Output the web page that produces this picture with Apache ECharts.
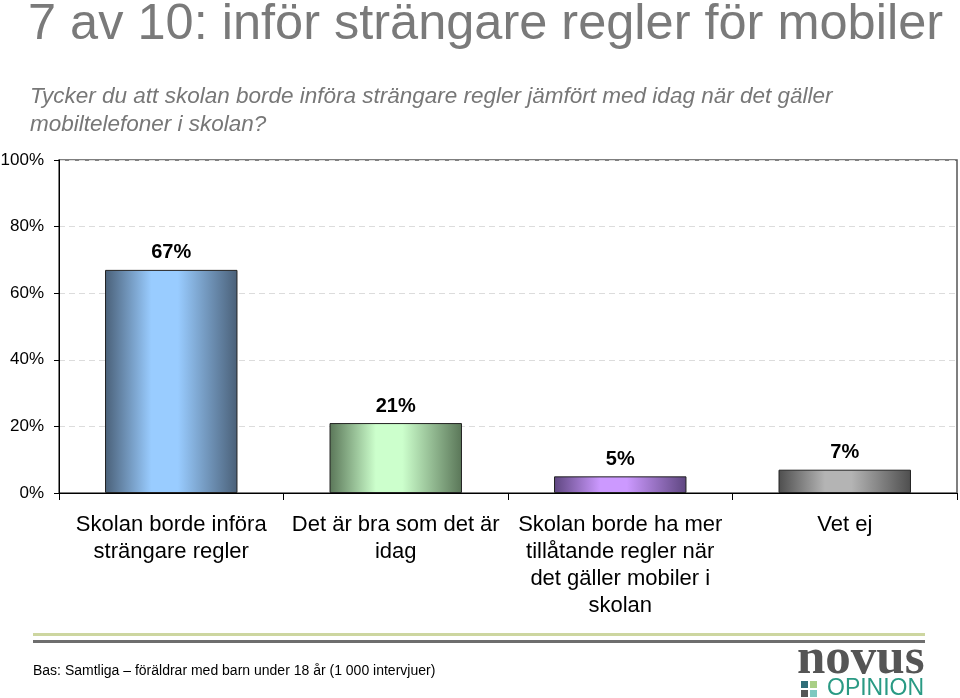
<!DOCTYPE html>
<html>
<head>
<meta charset="utf-8">
<script src="https://cdn.jsdelivr.net/npm/echarts@6/dist/echarts.min.js"></script>
<style>
html,body{margin:0;padding:0;background:#fff;}
#chart{width:960px;height:698px;}
</style>
</head>
<body>
<div id="chart"></div>
<script>
var categories = [
  "Skolan borde införa\nsträngare regler",
  "Det är bra som det är\nidag",
  "Skolan borde ha mer\ntillåtande regler när\ndet gäller mobiler i\nskolan",
  "Vet ej"
];
var values = [67, 21, 5, 7];
var yTicks = [0, 20, 40, 60, 80, 100];
var titleText = "7 av 10: inför strängare regler för mobiler";
var subtitleText = "Tycker du att skolan borde införa strängare regler jämfört med idag när det gäller\nmobiltelefoner i skolan?";
var footerText = "Bas: Samtliga – föräldrar med barn under 18 år (1 000 intervjuer)";

var barColors = [
  ["#4a6078", "#99ccff"],
  ["#5a7658", "#ccffcc"],
  ["#5e4680", "#cc99ff"],
  ["#4e4e4e", "#b4b4b4"]
];
function grad(c) {
  return new echarts.graphic.LinearGradient(0, 0, 1, 0, [
    {offset: 0, color: c[0]},
    {offset: 0.35, color: c[1]},
    {offset: 0.55, color: c[1]},
    {offset: 1, color: c[0]}
  ]);
}

var chart = echarts.init(document.getElementById('chart'), null, {renderer: 'canvas'});
var font = "'Liberation Sans', Arial, sans-serif";
chart.setOption({
  animation: false,
  textStyle: {fontFamily: font},
  grid: {left: 59, right: 3, top: 160, bottom: 205, containLabel: false, outerBoundsMode: 'none',
         show: true, borderColor: '#555', borderWidth: 1.5, backgroundColor: 'transparent'},
  xAxis: {
    type: 'category',
    data: categories,
    axisLine: {lineStyle: {color: '#000', width: 1}},
    axisTick: {show: true, length: 7, lineStyle: {color: '#000'}},
    axisLabel: {color: '#000', fontSize: 22, lineHeight: 27, margin: 18, interval: 0, fontFamily: font}
  },
  yAxis: {
    type: 'value',
    min: yTicks[0],
    max: yTicks[yTicks.length - 1],
    interval: 20,
    axisLine: {show: true, lineStyle: {color: '#000', width: 1}},
    axisTick: {show: true, length: 5, lineStyle: {color: '#000'}},
    axisLabel: {color: '#000', fontSize: 17, margin: 15, fontFamily: font, formatter: '{value}%'},
    splitLine: {show: true, lineStyle: {color: '#dcdcdc', type: [6, 4], width: 1}}
  },
  series: [{
    type: 'bar',
    barWidth: '59%',
    data: values.map(function (v, i) {
      return {value: v, itemStyle: {color: grad(barColors[i]), borderColor: '#222', borderWidth: 1}};
    }),
    label: {
      show: true, position: 'top', distance: 7,
      formatter: '{c}%', color: '#000', fontSize: 20, fontWeight: 'bold', fontFamily: font
    }
  }],
  graphic: [
    {type: 'text', left: 28, top: 0, style: {text: titleText, fill: '#7a7a7a', font: "50.5px " + font}},
    {type: 'text', left: 30, top: 83, style: {text: subtitleText, fill: '#777', font: "italic 22.5px " + font, lineHeight: 28}},
    {type: 'rect', shape: {x: 33, y: 633, width: 892, height: 3}, style: {fill: '#cdd6a0'}},
    {type: 'rect', shape: {x: 33, y: 640, width: 892, height: 3}, style: {fill: '#6e6e6e'}},
    {type: 'text', left: 33, top: 664, style: {text: footerText, fill: '#000', font: "14px " + font}},
    {type: 'text', left: 797, top: 634, style: {text: 'novus', fill: '#555', font: "bold 51px 'Liberation Serif', serif"}},
    {type: 'rect', shape: {x: 801, y: 681, width: 7, height: 7}, style: {fill: '#2f6d78'}},
    {type: 'rect', shape: {x: 810, y: 681, width: 7, height: 7}, style: {fill: '#a9cf85'}},
    {type: 'rect', shape: {x: 801, y: 690, width: 7, height: 7}, style: {fill: '#555'}},
    {type: 'rect', shape: {x: 810, y: 690, width: 7, height: 7}, style: {fill: '#7ec9c0'}},
    {type: 'text', left: 827, top: 677, style: {text: 'OPINION', fill: '#2a9a84', font: "23px " + font}}
  ]
});
</script>
</body>
</html>
